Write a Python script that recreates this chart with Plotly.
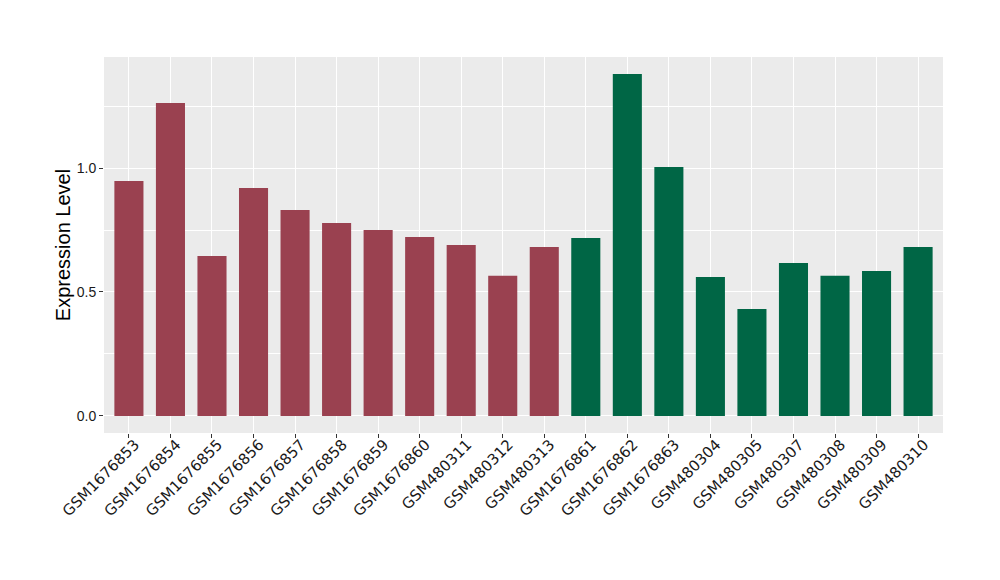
import plotly.graph_objects as go

samples = ["GSM1676853", "GSM1676854", "GSM1676855", "GSM1676856", "GSM1676857",
           "GSM1676858", "GSM1676859", "GSM1676860", "GSM480311", "GSM480312",
           "GSM480313", "GSM1676861", "GSM1676862", "GSM1676863", "GSM480304",
           "GSM480305", "GSM480307", "GSM480308", "GSM480309", "GSM480310"]
values = [0.948, 1.262, 0.645, 0.919, 0.831, 0.778, 0.750, 0.722, 0.690, 0.565,
          0.681, 0.718, 1.379, 1.004, 0.560, 0.431, 0.617, 0.565, 0.585, 0.681]
groups = ["A"] * 11 + ["B"] * 9
group_colors = {"A": "#9A4150", "B": "#006645"}

colors = [group_colors[g] for g in groups]

fig = go.Figure()
fig.add_trace(go.Bar(x=samples, y=values, marker=dict(color=colors, line=dict(width=0)),
                     width=0.7, showlegend=False))

fig.update_layout(
    width=1000, height=580,
    margin=dict(l=96, r=65, t=49, b=155, autoexpand=False),
    paper_bgcolor="white",
    plot_bgcolor="#EBEBEB",
    font=dict(family="Liberation Sans, Arial, sans-serif", color="#333333"),
    bargap=0.3,
)
fig.update_xaxes(
    type="category", range=[-0.6, 19.6], automargin=False,
    showgrid=True, gridcolor="white", gridwidth=1.2,
    ticks="outside", ticklen=4, tickcolor="#333333", tickwidth=1,
    tickangle=-45, tickfont=dict(family="DejaVu Sans", size=15, color="#1a1a1a"),
    ticklabelshift=6, ticklabelstandoff=-8,
    zeroline=False, showline=False,
)
fig.update_yaxes(
    range=[-0.069, 1.448], automargin=False,
    tickmode="array", tickvals=[0.0, 0.5, 1.0], ticktext=["0.0", "0.5", "1.0"],
    showgrid=True, gridcolor="white", gridwidth=1.2,
    minor=dict(tickvals=[0.25, 0.75, 1.25], showgrid=True, gridcolor="white", gridwidth=0.5, ticks=""),
    ticks="outside", ticklen=4, tickcolor="#333333", tickwidth=1,
    tickfont=dict(size=14, color="#1a1a1a"),
    title=dict(text="Expression Level", font=dict(size=20, color="black"), standoff=0),
    zeroline=False, showline=False,
)

fig.write_html("out.html")
